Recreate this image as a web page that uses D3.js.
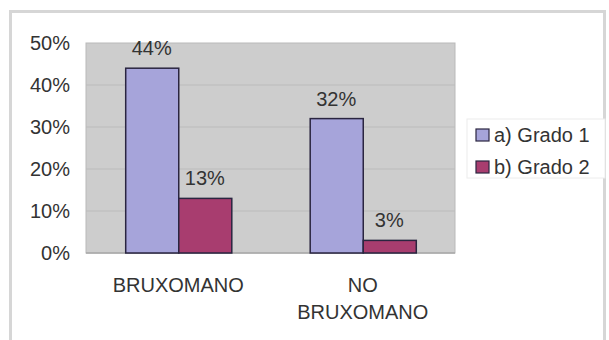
<!DOCTYPE html>
<html>
<head>
<meta charset="utf-8">
<script src="https://cdn.jsdelivr.net/npm/d3@7"></script>
<style>
  html, body { margin: 0; padding: 0; background: #ffffff; }
  svg { display: block; }
  text { font-family: "Liberation Sans", Arial, sans-serif; fill: #333333; }
</style>
</head>
<body>
<svg id="chart" width="609" height="340"></svg>
<script>
const categories = [["BRUXOMANO"], ["NO", "BRUXOMANO"]];
const seriesNames = ["a) Grado 1", "b) Grado 2"];
const grado1 = [44, 32];
const grado2 = [13, 3];
const yTicks = [0, 10, 20, 30, 40, 50];

const colors = ["#a6a4da", "#a83d6f"];
const seriesValues = [grado1, grado2];

const svg = d3.select("#chart");
const plot = { left: 86, right: 455, top: 43, bottom: 253 };

// outer frame
svg.append("rect")
  .attr("x", 10.5).attr("y", 11.5).attr("width", 594).attr("height", 340)
  .attr("fill", "#ffffff").attr("stroke", "#d6d6d6").attr("stroke-width", 3);

const x0 = d3.scaleBand()
  .domain(d3.range(categories.length))
  .range([plot.left, plot.right])
  .paddingInner(0.425).paddingOuter(0.2125);
const x1 = d3.scaleBand()
  .domain(d3.range(seriesNames.length))
  .range([0, x0.bandwidth()]);
const y = d3.scaleLinear().domain([0, 50]).range([plot.bottom, plot.top]);

// plot background
svg.append("rect")
  .attr("x", plot.left).attr("y", plot.top)
  .attr("width", plot.right - plot.left).attr("height", plot.bottom - plot.top)
  .attr("fill", "#cdcdcd").attr("stroke", "#b9b9b9").attr("stroke-width", 1);

// gridlines
svg.append("g").selectAll("line")
  .data(yTicks.filter(t => t > 0 && t < 50))
  .join("line")
  .attr("x1", plot.left).attr("x2", plot.right)
  .attr("y1", d => y(d)).attr("y2", d => y(d))
  .attr("stroke", "#bcbcbc").attr("stroke-width", 1.2);

// y axis
const yAxis = svg.append("g")
  .attr("transform", `translate(${plot.left},0)`)
  .call(d3.axisLeft(y).tickValues(yTicks).tickFormat(d => d + "%").tickSize(0).tickPadding(16));
yAxis.select(".domain").remove();
yAxis.selectAll("text")
  .attr("font-size", 20)
  .attr("fill", "#333333")
  .style("font-family", "'Liberation Sans', Arial, sans-serif");

// x axis line
svg.append("line")
  .attr("x1", plot.left).attr("x2", plot.right)
  .attr("y1", plot.bottom).attr("y2", plot.bottom)
  .attr("stroke", "#a8a8a8").attr("stroke-width", 1.5);

// bars
const groups = svg.append("g").selectAll("g")
  .data(categories.map((c, i) => i))
  .join("g")
  .attr("transform", i => `translate(${x0(i)},0)`);

groups.selectAll("rect")
  .data(i => seriesValues.map((vals, s) => ({ s, v: vals[i] })))
  .join("rect")
  .attr("x", d => x1(d.s) + 0.5)
  .attr("y", d => y(d.v))
  .attr("width", x1.bandwidth())
  .attr("height", d => plot.bottom - y(d.v))
  .attr("fill", d => colors[d.s])
  .attr("stroke", "#2a2540")
  .attr("stroke-width", 1.5);

groups.selectAll("text.val")
  .data(i => seriesValues.map((vals, s) => ({ s, v: vals[i] })))
  .join("text")
  .attr("class", "val")
  .attr("x", d => x1(d.s) + x1.bandwidth() / 2)
  .attr("y", d => y(d.v) - 13)
  .attr("text-anchor", "middle")
  .attr("font-size", 20)
  .text(d => d.v + "%");

// category labels
const catLabels = svg.append("g").selectAll("text")
  .data(categories.map((c, i) => ({ c, i })))
  .join("text")
  .attr("x", d => x0(d.i) + x0.bandwidth() / 2)
  .attr("y", 292)
  .attr("text-anchor", "middle")
  .attr("font-size", 20);
catLabels.selectAll("tspan")
  .data(d => d.c.map((line, k) => ({ line, k, xx: x0(d.i) + x0.bandwidth() / 2 })))
  .join("tspan")
  .attr("x", d => d.xx)
  .attr("dy", d => d.k === 0 ? 0 : 27)
  .text(d => d.line);

// legend
const legend = svg.append("g");
legend.append("rect")
  .attr("x", 467).attr("y", 119).attr("width", 138).attr("height", 59)
  .attr("fill", "#ffffff").attr("stroke", "#ececec").attr("stroke-width", 1);
const items = legend.selectAll("g")
  .data(seriesNames.map((n, i) => ({ n, i })))
  .join("g")
  .attr("transform", d => `translate(476, ${135 + d.i * 32})`);
items.append("rect")
  .attr("x", 0).attr("y", -6).attr("width", 13).attr("height", 12)
  .attr("fill", d => colors[d.i]).attr("stroke", "#2a2540").attr("stroke-width", 1.2);
items.append("text")
  .attr("x", 18).attr("y", 7)
  .attr("font-size", 20)
  .text(d => d.n);
</script>
</body>
</html>
